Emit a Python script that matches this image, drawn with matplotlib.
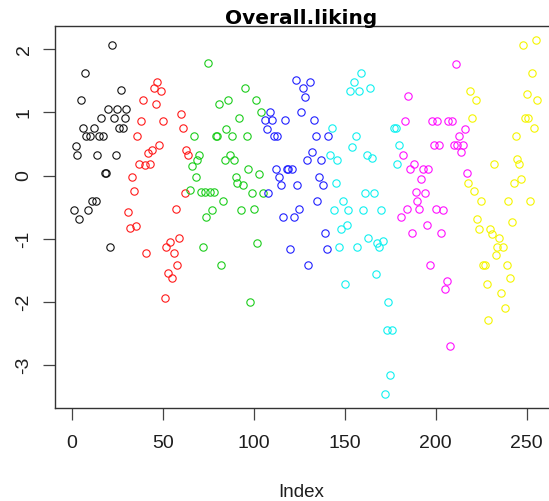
import matplotlib
matplotlib.use("Agg")
import matplotlib.pyplot as plt
import numpy as np

# Overall.liking scores, listed in index order, one list per colour group
black_vals = [-0.54, 0.47, 0.33, -0.69, 1.20, 0.76, 1.63, 0.62, -0.54, 0.62,
              -0.40, 0.76, -0.40, 0.33, 0.62, 0.91, 0.62, 0.04, 0.04, 1.05,
              -1.13, 2.07, 0.91, 0.33, 1.05, 0.76, 1.35, 0.76, 0.91, 1.05]
red_vals = [-0.57, -0.83, -0.02, -0.25, -0.80, 0.62, 0.18, 0.87, 1.19, 0.17,
            -1.23, 0.36, 0.18, 0.41, 1.38, 1.13, 1.49, 0.49, 1.34, 0.87,
            -1.93, -1.13, -1.54, -1.05, -1.62, -1.23, -0.53, -1.41, -0.98, 0.97,
            0.76, -0.27, 0.41, 0.32]
green_vals = [-0.22, 0.16, 0.62, -0.02, 0.24, 0.33, -0.26, -1.13, -0.26, -0.66,
              1.78, -0.26, -0.54, -0.26, 0.62, 0.62, 1.13, -1.42, -0.40, 0.24,
              0.74, 1.20, 0.33, 0.62, 0.24, -0.02, -0.12, 0.91, -0.54, -0.15,
              1.38, 0.62, 0.11, -2.00, -0.27, -0.53, 1.20, -1.07, 0.03, 1.00,
              -0.27]
blue_vals = [0.875, 0.74, -0.27, 1.00, 0.875, 0.62, 0.11, 0.62, -0.02, -0.14,
             -0.66, 0.875, 0.11, 0.11, -1.16, 0.11, -0.66, 1.51, -0.14, -0.53,
             1.00, 1.38, 1.25, 0.24, -1.42, 1.49, 0.37, 0.875, 0.62, -0.40,
             -0.02, 0.24, -0.14, -0.91, -1.16, 0.62]
cyan_vals = [0.33, 0.76, -0.54, -0.11, 0.24, -1.13, -0.84, -0.40, -1.71, -0.78,
             -0.54, 1.345, 0.46, 1.49, 0.62, -1.13, 1.345, 1.63, -0.54, -0.27,
             0.33, -0.985, 1.38, 0.28, -0.27, -1.56, -1.06, -1.13, -0.54, -1.03,
             -3.45, -2.44, -2.00, -3.16, -2.44, 0.76, 0.76, 0.18, 0.485]
magenta_vals = [-0.65, 0.33, 0.87, -0.53, 1.26, 0.11, -0.90, 0.19, -0.26, -0.40,
                -0.53, -0.05, 0.11, -0.27, -0.78, 0.11, -1.41, 0.87, 0.49, -0.53,
                0.87, 0.49, -0.90, -0.55, -1.80, -1.67, 0.87, -2.69, 0.87, 0.49,
                1.76, 0.49, 0.62, 0.37, 0.49, 0.74, 0.04]
yellow_vals = [-0.11, 1.345, 0.91, -0.24, 1.20, -0.69, -0.84, -0.40, -1.42, -1.42,
               -1.71, -2.29, -0.84, -0.92, 0.18, -1.26, -1.13, -0.98, -1.86, -1.13,
               -2.09, -1.42, -0.40, -1.62, -0.74, -0.11, 0.62, 0.27, 0.18, -0.06,
               2.07, 0.91, 1.29, 0.91, -0.40, 1.63, 0.76, 2.14, 1.20]

series = [black_vals, red_vals, green_vals, blue_vals,
          cyan_vals, magenta_vals, yellow_vals]
colors = ["#111111", "#ff1a1a", "#1ccd1c", "#2020ff", "#10f0f0", "#ff10ff", "#f5f500"]

x_ticks = [0, 50, 100, 150, 200, 250]
y_ticks = [-3, -2, -1, 0, 1, 2]

W, H = 549, 501
fig = plt.figure(figsize=(W / 100, H / 100), dpi=100)

# plot region in pixels (right edge runs just past the figure)
left_px, right_px, top_px, bottom_px = 55.2, 556.0, 26.3, 407.8
ax = fig.add_axes([left_px / W, 1 - bottom_px / H,
                   (right_px - left_px) / W, (bottom_px - top_px) / H])

start = 1
all_vals = []
for vals, col in zip(series, colors):
    idx = np.arange(start, start + len(vals))
    ax.plot(idx, vals, linestyle="none", marker="o", markersize=5.3,
            markerfacecolor="none", markeredgecolor=col, markeredgewidth=0.8)
    start += len(vals)
    all_vals.extend(vals)

n = start - 1
xpad = 0.04 * (n - 1)
ymin, ymax = min(all_vals), max(all_vals)
ypad = 0.04 * (ymax - ymin)
ax.set_xlim(1 - xpad, n + xpad)
ax.set_ylim(ymin - ypad, ymax + ypad)

ax.set_xticks(x_ticks)
ax.set_yticks(y_ticks)
ax.set_xticklabels([str(t) for t in x_ticks])
ax.set_yticklabels([str(t) for t in y_ticks])

for sp in ax.spines.values():
    sp.set_color("#333333")
    sp.set_linewidth(1.0)

ax.tick_params(axis="both", direction="out", length=8.3, width=0.9,
               color="#444444", labelsize=14, labelcolor="#1e1e1e")
ax.tick_params(axis="x", pad=11)
ax.tick_params(axis="y", pad=8)
for lbl in ax.get_xticklabels() + ax.get_yticklabels():
    lbl.set_fontfamily("Liberation Sans")
for lbl in ax.get_yticklabels():
    lbl.set_rotation(90)
    lbl.set_va("center")

fig.text(301.5 / W, 1 - 23.5 / H, "Overall.liking", ha="center",
         va="baseline", fontsize=14.5, fontweight="bold",
         family="DejaVu Sans", color="black")
fig.text(301.5 / W, 1 - 497.0 / H, "Index", ha="center", va="baseline",
         fontsize=13.5, family="Liberation Sans", color="#1e1e1e")

fig.savefig("out.png", dpi=100)
